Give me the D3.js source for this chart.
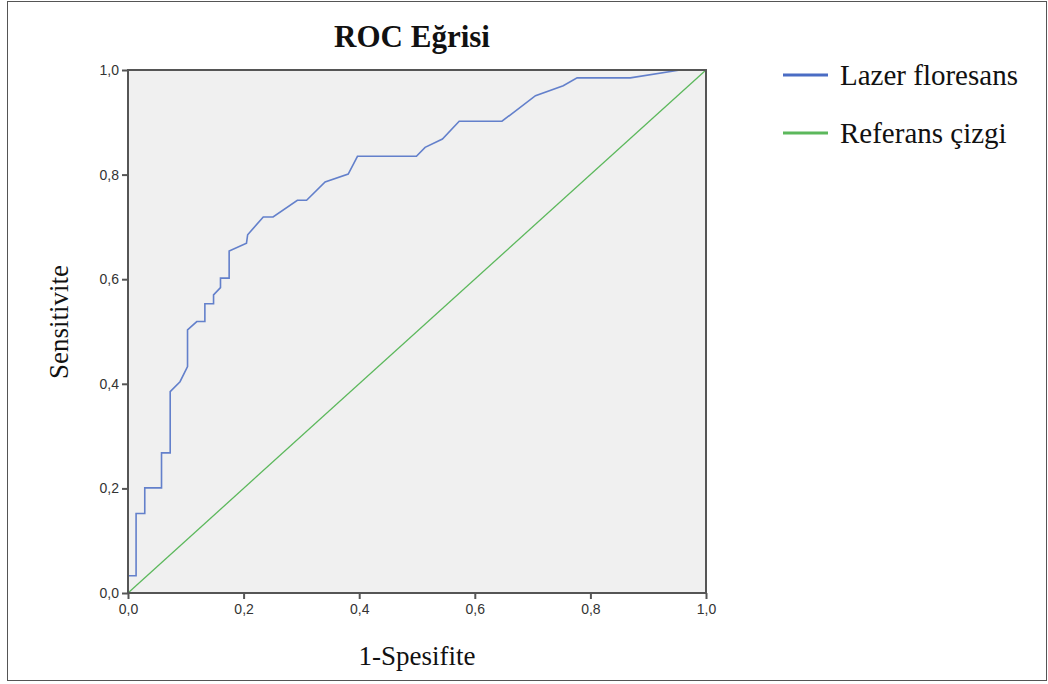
<!DOCTYPE html>
<html>
<head>
<meta charset="utf-8">
<script src="https://cdn.jsdelivr.net/npm/d3@7/dist/d3.min.js"></script>
<style>
  body { margin: 0; background: #fff; }
  .tick text { font-family: "Liberation Sans", Arial, sans-serif; font-size: 14px; fill: #333; }
  .serif { font-family: "Liberation Serif", "Times New Roman", serif; fill: #111; }
</style>
</head>
<body>
<svg id="chart"></svg>
<script>
// ROC curve points (1-specificity, sensitivity)
var fpr = [0, 0, 0.014, 0.014, 0.029, 0.029, 0.058, 0.058, 0.073, 0.073, 0.090, 0.103, 0.103,
           0.119, 0.133, 0.133, 0.148, 0.148, 0.160, 0.160, 0.175, 0.175, 0.205, 0.207, 0.234,
           0.251, 0.293, 0.309, 0.341, 0.381, 0.397, 0.499, 0.514, 0.544, 0.573, 0.647, 0.705,
           0.753, 0.777, 0.869, 0.955, 1];
var tpr = [0, 0.033, 0.033, 0.152, 0.152, 0.201, 0.201, 0.268, 0.268, 0.385, 0.404, 0.433, 0.503,
           0.519, 0.519, 0.553, 0.553, 0.570, 0.584, 0.602, 0.602, 0.654, 0.669, 0.685, 0.719,
           0.719, 0.751, 0.751, 0.786, 0.801, 0.835, 0.835, 0.852, 0.868, 0.902, 0.902, 0.951,
           0.970, 0.985, 0.985, 1, 1];
var refLine = [0, 1];
var ticks = [0, 0.2, 0.4, 0.6, 0.8, 1.0];
var seriesNames = ["Lazer floresans", "Referans çizgi"];
var seriesColors = ["#4a6cc4", "#5cb85c"];

var W = 1048, H = 684;
var margin = {left: 128, top: 70, right: 342, bottom: 91};
var pw = W - margin.left - margin.right, ph = H - margin.top - margin.bottom;

var svg = d3.select("#chart").attr("width", W).attr("height", H);

// outer frame
svg.append("rect").attr("x", 7.5).attr("y", 1.5).attr("width", 1039).attr("height", 679)
    .attr("fill", "none").attr("stroke", "#555").attr("stroke-width", 1);

var x = d3.scaleLinear().domain([0, 1]).range([0, pw]);
var y = d3.scaleLinear().domain([0, 1]).range([ph, 0]);
var fmt = function (d) { return d3.format(".1f")(d).replace(".", ","); };

var g = svg.append("g").attr("transform", "translate(" + margin.left + "," + margin.top + ")");

g.append("rect").attr("width", pw).attr("height", ph).attr("fill", "#f0f0f0");

// diagonal reference line
g.append("line")
    .attr("x1", x(refLine[0])).attr("y1", y(refLine[0]))
    .attr("x2", x(refLine[1])).attr("y2", y(refLine[1]))
    .attr("stroke", seriesColors[1]).attr("stroke-width", 1.3);

var line = d3.line()
    .x(function (d, i) { return x(fpr[i]); })
    .y(function (d, i) { return y(tpr[i]); });

g.append("path").datum(fpr)
    .attr("d", line)
    .attr("fill", "none")
    .attr("stroke", seriesColors[0])
    .attr("stroke-width", 1.6)
    .attr("stroke-opacity", 0.85);

// frame of the plot area
g.append("rect").attr("width", pw).attr("height", ph)
    .attr("fill", "none").attr("stroke", "#555").attr("stroke-width", 2);

var xAxis = g.append("g").attr("transform", "translate(0," + ph + ")")
    .call(d3.axisBottom(x).tickValues(ticks).tickFormat(fmt).tickSize(6).tickPadding(5));
var yAxis = g.append("g")
    .call(d3.axisLeft(y).tickValues(ticks).tickFormat(fmt).tickSize(6).tickPadding(3));
[xAxis, yAxis].forEach(function (a) {
    a.select(".domain").remove();
    a.selectAll(".tick line").attr("stroke", "#555").attr("stroke-width", 2);
});

// title and axis titles
svg.append("text").attr("class", "serif")
    .attr("x", margin.left + pw / 2 - 5).attr("y", 47)
    .attr("text-anchor", "middle").attr("font-size", 31).attr("font-weight", "bold")
    .text("ROC Eğrisi");

svg.append("text").attr("class", "serif")
    .attr("x", margin.left + pw / 2).attr("y", 665)
    .attr("text-anchor", "middle").attr("font-size", 27)
    .text("1-Spesifite");

svg.append("text").attr("class", "serif")
    .attr("transform", "translate(68," + 322 + ") rotate(-90)")
    .attr("text-anchor", "middle").attr("font-size", 27)
    .text("Sensitivite");

// legend
var leg = svg.append("g").attr("transform", "translate(783,75)");
seriesNames.forEach(function (name, i) {
    var row = leg.append("g").attr("transform", "translate(0," + i * 58 + ")");
    row.append("line").attr("x1", 0).attr("x2", 45)
        .attr("stroke", seriesColors[i]).attr("stroke-width", 3);
    row.append("text").attr("class", "serif")
        .attr("x", 57).attr("y", 0).attr("dy", "0.35em")
        .attr("font-size", 29).text(name);
});
</script>
</body>
</html>
